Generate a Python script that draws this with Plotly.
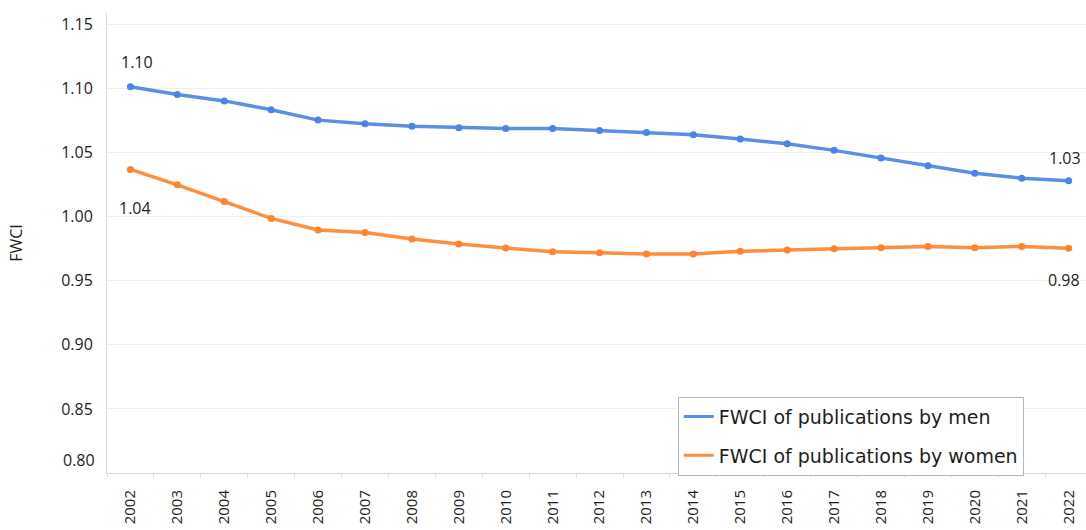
import plotly.graph_objects as go

years = [str(y) for y in range(2002, 2023)]
men = [1.1015, 1.0954, 1.0904, 1.0835, 1.0754, 1.0726, 1.0706, 1.0695, 1.0688, 1.0688,
       1.0673, 1.0658, 1.0640, 1.0607, 1.0569, 1.0518, 1.0459, 1.0398, 1.0339, 1.0301, 1.0281]
women = [1.0369, 1.0249, 1.0118, 0.9987, 0.9897, 0.9877, 0.9826, 0.9787, 0.9756, 0.9726,
         0.9719, 0.9709, 0.9709, 0.9730, 0.9740, 0.9750, 0.9758, 0.9768, 0.9758, 0.9768, 0.9755]
y_ticks = [0.85, 0.90, 0.95, 1.00, 1.05, 1.10, 1.15]
y_bottom_label = 0.80
series_names = ["FWCI of publications by men", "FWCI of publications by women"]

FONT = "Open Sans"
LEGEND_FONT = "DejaVu Sans"
TXT = "#1e1e1e"
BLUE = "#5b8fe3"
ORANGE = "#ff8f3c"

fig = go.Figure()
for vals, name, lc, mc in [(men, series_names[0], BLUE, "#4a84e6"),
                           (women, series_names[1], ORANGE, "#ff8330")]:
    fig.add_trace(go.Scatter(
        x=years, y=vals, mode="lines+markers", name=name, showlegend=False,
        line=dict(color=lc, width=3.5), marker=dict(color=mc, size=7)))
    # legend entry drawn as a plain line sample
    fig.add_trace(go.Scatter(
        x=[None], y=[None], mode="lines", name=name, legendgroup=name,
        line=dict(color=lc, width=3)))

# data labels on first/last points (category index positions)
last = len(years) - 1
labels = [
    (0, men[0], 7, 25),
    (0, women[0], 5, -39),
    (last, men[-1], -4, 23),
    (last, women[-1], -5, -32),
]
for x, y, xs, ys in labels:
    fig.add_annotation(x=x, y=y, text=f"{y:.2f}", showarrow=False,
                       xshift=xs, yshift=ys, font=dict(family=FONT, size=16, color=TXT))

# bottom tick label (drawn slightly above the axis line)
fig.add_annotation(xref="paper", x=0, xanchor="right", xshift=-10,
                   y=y_bottom_label, yshift=13, text=f"{y_bottom_label:.2f}",
                   showarrow=False, font=dict(family=FONT, size=16, color=TXT))

fig.update_layout(
    width=1086, height=530,
    margin=dict(l=107, r=0, t=13, b=57, autoexpand=False),
    paper_bgcolor="white", plot_bgcolor="white",
    font=dict(family=FONT, size=16, color=TXT),
    showlegend=True,
    legend=dict(x=0.583, y=-0.006, xanchor="left", yanchor="bottom",
                bordercolor="#b5b5b5", borderwidth=1, bgcolor="white",
                font=dict(family=LEGEND_FONT, size=19, color=TXT),
                tracegroupgap=11, itemwidth=30),
)
fig.update_xaxes(
    type="category", range=[-0.5, 20.37], automargin=False,
    tickangle=-90, tickfont=dict(family=FONT, size=15, color=TXT),
    showgrid=False, showline=True, linecolor="#d9d9d9", linewidth=1,
    ticks="outside", tickson="boundaries", ticklen=4, tickcolor="#e3e3e3",
    ticklabelstandoff=10, zeroline=False,
)
fig.update_yaxes(
    range=[0.80, 1.159], tickvals=y_ticks, ticktext=[f"{v:.2f}" for v in y_ticks],
    tickfont=dict(family=FONT, size=16, color=TXT), automargin=False,
    showgrid=True, gridcolor="#efefef", gridwidth=1,
    showline=True, linecolor="#d9d9d9", linewidth=1, zeroline=False,
    ticks="", ticklabelstandoff=10,
    title=dict(text="FWCI", font=dict(family=FONT, size=16, color=TXT), standoff=34),
)

fig.write_html("out.html", config={"displayModeBar": False},
               post_script="document.body.style.margin='0px';"
                           "document.body.style.overflow='hidden';")
